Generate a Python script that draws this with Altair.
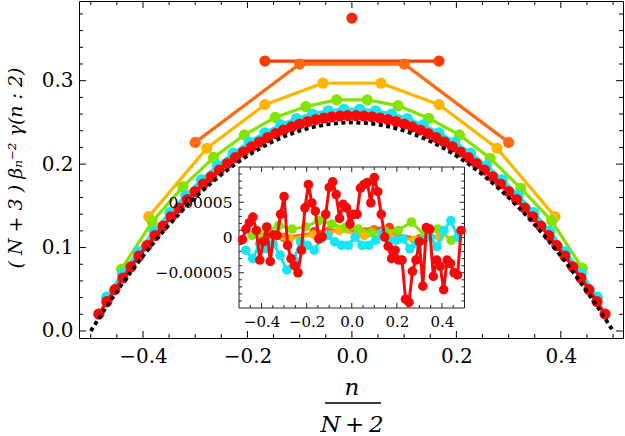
import altair as alt
import pandas as pd

# Truncation orders N = 2^k - 1 and their colours
N_VALUES = [0, 1, 3, 7, 15, 31, 63]
COLORS = ["#EE2A0C", "#FF3C00", "#FF6A12", "#FFB600", "#84E400", "#14E6F2", "#F50A0A"]

# (N+3) beta_n^-2 gamma(n:2) for each N, ordered by n
Y_MAIN = {
    0: [0.375],
    1: [0.3235, 0.3235],
    3: [0.226, 0.320, 0.320, 0.226],
    7: [0.137, 0.219, 0.2713, 0.297, 0.297, 0.2713, 0.219, 0.137],
    15: [0.074, 0.131, 0.173, 0.208, 0.235, 0.256, 0.269, 0.277,
         0.277, 0.270, 0.255, 0.235, 0.207, 0.171, 0.132, 0.075],
    31: [0.0405, 0.0687, 0.0950, 0.1194, 0.1419, 0.1625, 0.1813, 0.1982,
         0.2132, 0.2264, 0.2376, 0.2470, 0.2545, 0.2601, 0.2639, 0.2658,
         0.2658, 0.2639, 0.2601, 0.2545, 0.2470, 0.2376, 0.2264, 0.2132,
         0.1982, 0.1813, 0.1625, 0.1419, 0.1194, 0.0950, 0.0687, 0.0405],
    63: [0.0203, 0.0352, 0.0496, 0.0635, 0.0769, 0.0899, 0.1023, 0.1143,
         0.1258, 0.1369, 0.1474, 0.1575, 0.1671, 0.1762, 0.1848, 0.1929,
         0.2006, 0.2078, 0.2145, 0.2207, 0.2265, 0.2318, 0.2366, 0.2409,
         0.2447, 0.2481, 0.2510, 0.2533, 0.2553, 0.2567, 0.2577, 0.2581,
         0.2581, 0.2577, 0.2567, 0.2553, 0.2533, 0.2510, 0.2481, 0.2447,
         0.2409, 0.2366, 0.2318, 0.2265, 0.2207, 0.2145, 0.2078, 0.2006,
         0.1929, 0.1848, 0.1762, 0.1671, 0.1575, 0.1474, 0.1369, 0.1258,
         0.1143, 0.1023, 0.0899, 0.0769, 0.0635, 0.0496, 0.0352, 0.0203],
}

# Limiting curve (dashed)
X_LIMIT = [-0.5, -0.475, -0.45, -0.425, -0.4, -0.375, -0.35, -0.325, -0.3, -0.275,
           -0.25, -0.225, -0.2, -0.175, -0.15, -0.125, -0.1, -0.075, -0.05, -0.025,
           0.0, 0.025, 0.05, 0.075, 0.1, 0.125, 0.15, 0.175, 0.2, 0.225,
           0.25, 0.275, 0.3, 0.325, 0.35, 0.375, 0.4, 0.425, 0.45, 0.475, 0.5]
Y_LIMIT = [0.0, 0.024375, 0.0475, 0.069375, 0.09, 0.109375, 0.1275, 0.144375, 0.16, 0.174375,
           0.1875, 0.199375, 0.21, 0.219375, 0.2275, 0.234375, 0.24, 0.244375, 0.2475, 0.249375,
           0.25, 0.249375, 0.2475, 0.244375, 0.24, 0.234375, 0.2275, 0.219375, 0.21, 0.199375,
           0.1875, 0.174375, 0.16, 0.144375, 0.1275, 0.109375, 0.09, 0.069375, 0.0475, 0.024375, 0.0]

# Residuals shown in the inset, in units of 1e-5
D_INSET = {
    1: [0.8, 1.4],
    3: [0.0, 0.9, 1.1, -0.2],
    7: [0.0, -0.2, 0.4, 1.0, 0.3, 0.2, -0.4, 0.1],
    15: [0.3, 0.7, 1.7, 1.2, 1.5, 2.4, 1.9, 1.4, 1.2, 0.7, 0.9, 1.0, 2.2, 0.3, 1.2, -0.4],
    31: [-1.8, -3.0, -0.9, -1.6, -0.9, -2.5, -4.6, -3.2, -0.6, -1.1, -1.8, -0.2, 0.3, -0.6, -1.1, -1.1,
         0.05, -1.1, -1.1, -0.4, 0.7, -0.6, -0.4, -0.2, -1.6, -0.9, -0.4, 0.05, -1.3, 1.0, 2.4, 0.05],
    63: [-0.3, 1.2, 2.1, 2.9, 1.0, -3.2, -0.6, 1.5, -3.4, 0.4, 0.3, 3.3, 5.8, -1.1, -3.0, -4.0,
         -5.0, -1.8, 4.2, 7.5, 4.9, 3.75, -0.2, 0.1, 3.3, 7.1, 7.9, 6.1, 2.7, 4.7, 4.2, 1.9,
         3.3, 3.3, 7.0, 7.5, 7.8, 4.9, 8.5, 6.5, 3.3, 0.05, -1.25, -3.0, -1.8, -3.2, -3.2, -8.75,
         -9.2, -4.8, -3.2, -0.6, -6.9, 1.4, 1.2, -5.5, -3.2, -4.1, -7.4, -3.2, -3.7, -5.0, -5.3, 1.0],
}

# Tick positions
MAIN_X_MAJOR = [-0.4, -0.2, 0.0, 0.2, 0.4]
MAIN_X_MINOR = [-0.5, -0.45, -0.35, -0.3, -0.25, -0.15, -0.1, -0.05,
                0.05, 0.1, 0.15, 0.25, 0.3, 0.35, 0.45, 0.5]
MAIN_Y_MAJOR = [0.0, 0.1, 0.2, 0.3]
MAIN_Y_MINOR = [0.02, 0.04, 0.06, 0.08, 0.12, 0.14, 0.16, 0.18, 0.22, 0.24, 0.26, 0.28,
                0.32, 0.34, 0.36, 0.38]
IN_X_MAJOR = [-0.4, -0.2, 0.0, 0.2, 0.4]
IN_X_MINOR = [-0.45, -0.35, -0.3, -0.25, -0.15, -0.1, -0.05, 0.05, 0.1, 0.15, 0.25, 0.3, 0.35, 0.45]
IN_Y_MAJOR = [-5e-5, 0.0, 5e-5]
IN_Y_MINOR = [-9e-5, -8e-5, -7e-5, -6e-5, -4e-5, -3e-5, -2e-5, -1e-5,
              1e-5, 2e-5, 3e-5, 4e-5, 6e-5, 7e-5, 8e-5, 9e-5]

W, H = 544, 337
FONT = "DejaVu Serif"


def n_over(N):
    """Abscissae n/(N+2) for n = -N/2, ..., N/2."""
    return [(j - N / 2) / (N + 2) for j in range(N + 1)]


# ---------- main panel ----------
xs_main = alt.Scale(domain=[-0.5225, 0.519], nice=False, zero=False)
ys_main = alt.Scale(domain=[-0.0084, 0.3955], nice=False, zero=False)
ax_x = alt.Axis(values=MAIN_X_MAJOR, format=".1f", ticks=False, domain=False, grid=False,
                labelPadding=8, labelFont=FONT, labelFontSize=20, labelColor="black", title="")
ax_y = alt.Axis(values=MAIN_Y_MAJOR, format=".1f", ticks=False, domain=False, grid=False,
                labelPadding=6, labelFont=FONT, labelFontSize=20, labelColor="black", title="")


def X_main(f):
    return alt.X(f"{f}:Q", scale=xs_main, axis=ax_x)


def Y_main(f):
    return alt.Y(f"{f}:Q", scale=ys_main, axis=ax_y)


main_layers = []
for N, col in zip(N_VALUES, COLORS):
    df = pd.DataFrame({"x": n_over(N), "y": Y_MAIN[N]})
    base = alt.Chart(df).encode(x=X_main("x"), y=Y_main("y"))
    if N > 0:
        main_layers.append(base.mark_line(color=col, strokeWidth=3.3))
    main_layers.append(base.mark_circle(color=col, size=125, opacity=1))

lim = pd.DataFrame({"x": X_LIMIT, "y": Y_LIMIT})
main_layers.append(
    alt.Chart(lim).mark_line(color="black", strokeWidth=3.8, strokeDash=[4, 3.5])
    .encode(x=X_main("x"), y=Y_main("y"))
)

# inward frame ticks of the main panel
def xticks(vals, ylo, yhi):
    return alt.Chart(pd.DataFrame({"v": vals})).mark_rule(color="black", strokeWidth=1).encode(
        x=X_main("v"), y=alt.value(ylo), y2=alt.value(yhi))


def yticks(vals, xlo, xhi):
    return alt.Chart(pd.DataFrame({"v": vals})).mark_rule(color="black", strokeWidth=1).encode(
        y=Y_main("v"), x=alt.value(xlo), x2=alt.value(xhi))


main_layers += [
    xticks(MAIN_X_MAJOR, H, H - 7), xticks(MAIN_X_MINOR, H, H - 4),
    xticks(MAIN_X_MAJOR, 0, 7), xticks(MAIN_X_MINOR, 0, 4),
    yticks(MAIN_Y_MAJOR, 0, 7), yticks(MAIN_Y_MINOR, 0, 4),
    yticks(MAIN_Y_MAJOR, W, W - 7), yticks(MAIN_Y_MINOR, W, W - 4),
]

# axis titles
title_style = dict(font=FONT, fontSize=19, color="black", fontStyle="italic")
main_layers.append(
    alt.Chart(pd.DataFrame({"t": ["( N + 3 ) βₙ⁻² γ(n : 2)"]}))
    .mark_text(angle=270, align="center", baseline="middle", **title_style)
    .encode(text="t:N", x=alt.value(-63), y=alt.value(167))
)
main_layers.append(
    alt.Chart(pd.DataFrame({"t": ["n"]}))
    .mark_text(align="center", baseline="alphabetic", font=FONT, fontSize=23, fontStyle="italic", color="black")
    .encode(text="t:N", x=alt.value(273), y=alt.value(394))
)
main_layers.append(
    alt.Chart(pd.DataFrame({"t": ["N\u2009+\u20092"]}))
    .mark_text(align="center", baseline="alphabetic", font=FONT, fontSize=23, fontStyle="italic", color="black")
    .encode(text="t:N", x=alt.value(273), y=alt.value(431))
)
main_layers.append(
    alt.Chart(pd.DataFrame({"t": ["bar"]})).mark_rule(color="black", strokeWidth=1.3)
    .encode(x=alt.value(246), x2=alt.value(302), y=alt.value(402))
)

main = alt.layer(*main_layers)

# ---------- inset ----------
IX0, IX1, IY0, IY1 = 160, 385.5, 166, 307
xs_in = alt.Scale(domain=[-0.5, 0.5], range=[IX0, IX1], nice=False, zero=False)
ys_in = alt.Scale(domain=[-1e-4, 1e-4], range=[IY1, IY0], nice=False, zero=False)
ax_xi = alt.Axis(orient="bottom", offset=-(H - IY1), values=IN_X_MAJOR, format=".1f",
                 ticks=False, domain=False, grid=False, labelPadding=6, labelFont=FONT,
                 labelFontSize=15, labelColor="black", title="", zindex=1)
ax_yi = alt.Axis(orient="left", offset=-IX0, values=IN_Y_MAJOR,
                 labelExpr="datum.value == 0 ? '0' : format(datum.value, '.5f')",
                 ticks=False, domain=False, grid=False, labelPadding=7, labelFont=FONT,
                 labelFontSize=15.5, labelColor="black", title="", zindex=1)


def X_in(f):
    return alt.X(f"{f}:Q", scale=xs_in, axis=ax_xi)


def Y_in(f):
    return alt.Y(f"{f}:Q", scale=ys_in, axis=ax_yi)


inset_layers = [
    alt.Chart(pd.DataFrame({"t": ["frame"]})).mark_rect(fill="white", stroke="#222", strokeWidth=1)
    .encode(x=alt.value(IX0), x2=alt.value(IX1), y=alt.value(IY0), y2=alt.value(IY1))
]


def ixticks(vals, ylo, yhi):
    return alt.Chart(pd.DataFrame({"v": vals})).mark_rule(color="#222", strokeWidth=1).encode(
        x=X_in("v"), y=alt.value(ylo), y2=alt.value(yhi))


def iyticks(vals, xlo, xhi):
    return alt.Chart(pd.DataFrame({"v": vals})).mark_rule(color="#222", strokeWidth=1).encode(
        y=Y_in("v"), x=alt.value(xlo), x2=alt.value(xhi))


inset_layers += [
    ixticks(IN_X_MAJOR, IY1, IY1 - 5), ixticks(IN_X_MINOR, IY1, IY1 - 3),
    ixticks(IN_X_MAJOR, IY0, IY0 + 5), ixticks(IN_X_MINOR, IY0, IY0 + 3),
    iyticks(IN_Y_MAJOR, IX0, IX0 + 5), iyticks(IN_Y_MINOR, IX0, IX0 + 3),
    iyticks(IN_Y_MAJOR, IX1, IX1 - 5), iyticks(IN_Y_MINOR, IX1, IX1 - 3),
]

for N, col in zip(N_VALUES[1:], COLORS[1:]):
    df = pd.DataFrame({"x": n_over(N), "d": [v * 1e-5 for v in D_INSET[N]]})
    base = alt.Chart(df).encode(x=X_in("x"), y=Y_in("d"))
    inset_layers.append(base.mark_line(color=col, strokeWidth=3))
    inset_layers.append(base.mark_circle(color=col, size=92, opacity=1))

inset = alt.layer(*inset_layers)

chart = (
    alt.layer(main, inset)
    .resolve_scale(x="independent", y="independent")
    .properties(width=W, height=H, autosize="none",
                padding={"left": 79, "top": 1, "right": 2, "bottom": 98})
    .configure_view(stroke="black", strokeWidth=1)
)

chart.save("out.html", embed_options={"renderer": "svg", "actions": False})
